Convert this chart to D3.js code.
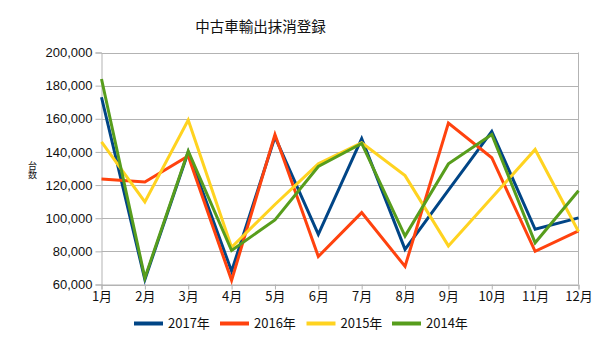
<!DOCTYPE html>
<html>
<head>
<meta charset="utf-8">
<script src="https://cdn.jsdelivr.net/npm/d3@7"></script>
<style>
  html, body { margin: 0; padding: 0; background: #fff; }
  svg { display: block; }
  text { font-family: "Liberation Sans", Arial, sans-serif; fill: #111; }
  .jp { font-family: "Noto Sans CJK JP", "Liberation Sans", sans-serif; }
</style>
</head>
<body>
<svg id="chart" width="605" height="340"></svg>
<script>
const title = "中古車輸出抹消登録";
const yTitle = "台数";
const months = ["1月","2月","3月","4月","5月","6月","7月","8月","9月","10月","11月","12月"];
const seriesNames = ["2017年","2016年","2015年","2014年"];
const seriesColors = ["#004586","#ff420e","#ffd320","#579d1c"];
const values2017 = [173000, 63000, 140000, 68000, 149000, 90300, 148000, 81200, 117000, 152400, 93300, 100200];
const values2016 = [123700, 121800, 137500, 62500, 150500, 76900, 103400, 70900, 157400, 136500, 80000, 92300];
const values2015 = [146000, 109800, 159200, 82500, 108300, 132800, 145500, 125700, 83300, 112300, 141500, 92000];
const values2014 = [184000, 64000, 140500, 80500, 99000, 131200, 145100, 89200, 132800, 150500, 85200, 116600];
const yTicks = [60000, 80000, 100000, 120000, 140000, 160000, 180000, 200000];

const allSeries = [values2017, values2016, values2015, values2014];

const svg = d3.select("#chart");
const plotLeft = 101.5, plotRight = 578.5, plotTop = 52.5, plotBottom = 284.5;

const x = d3.scalePoint().domain(months).range([plotLeft, plotRight]);
const y = d3.scaleLinear().domain([60000, 200000]).range([plotBottom, plotTop]);
const fmt = d3.format(",");

// title
svg.append("text").attr("class", "jp")
  .attr("x", 260.5).attr("y", 32)
  .attr("text-anchor", "middle")
  .style("font-size", "14.5px")
  .text(title);

// horizontal grid
svg.append("g").selectAll("line").data(yTicks).join("line")
  .attr("x1", plotLeft).attr("x2", plotRight)
  .attr("y1", d => Math.round(y(d)) + 0.5).attr("y2", d => Math.round(y(d)) + 0.5)
  .attr("stroke", "#b3b3b3").attr("stroke-width", 1);

// right frame edge
svg.append("line").attr("x1", plotRight).attr("x2", plotRight).attr("y1", plotTop).attr("y2", plotBottom)
  .attr("stroke", "#b3b3b3");

// y axis
const yAxis = d3.axisLeft(y).tickValues(yTicks).tickFormat(fmt).tickSize(6).tickPadding(3);
const gy = svg.append("g").attr("transform", `translate(${plotLeft},0)`).call(yAxis);
gy.select(".domain").attr("stroke", "#b3b3b3");
gy.selectAll(".tick line").attr("stroke", "#b3b3b3");
gy.selectAll(".tick text").style("font-size", "13px").style("font-family", "Liberation Sans, Arial, sans-serif").attr("fill", "#111");

// x axis
const xAxis = d3.axisBottom(x).tickSize(5).tickPadding(2);
const gx = svg.append("g").attr("transform", `translate(0,${plotBottom})`).call(xAxis);
gx.select(".domain").attr("stroke", "#b3b3b3");
gx.selectAll(".tick line").attr("stroke", "#b3b3b3");
gx.selectAll(".tick text").attr("class", "jp").style("font-size", "13px").attr("fill", "#111");

// y axis title, set vertically
svg.append("text")
  .attr("class", "jp")
  .attr("x", 32.5).attr("y", 161)
  .style("writing-mode", "vertical-rl")
  .style("text-orientation", "upright")
  .style("font-size", "9px")
  .text(yTitle);

// series lines
const line = d3.line().x((d, i) => x(months[i])).y(d => y(d));
svg.append("g").selectAll("path").data(allSeries).join("path")
  .attr("d", d => line(d))
  .attr("fill", "none")
  .attr("stroke", (d, i) => seriesColors[i])
  .attr("stroke-width", 3)
  .attr("stroke-linejoin", "miter");

// legend
const legendX = [134, 220, 306.5, 392];
const lg = svg.append("g").selectAll("g").data(seriesNames).join("g")
  .attr("transform", (d, i) => `translate(${legendX[i]},323.5)`);
lg.append("line").attr("x1", 0).attr("x2", 29).attr("y1", 0).attr("y2", 0)
  .attr("stroke", (d, i) => seriesColors[i]).attr("stroke-width", 4);
lg.append("text").attr("class", "jp").attr("x", 34).attr("y", 0).attr("dy", "0.35em")
  .style("font-size", "13px").text(d => d);
</script>
</body>
</html>
